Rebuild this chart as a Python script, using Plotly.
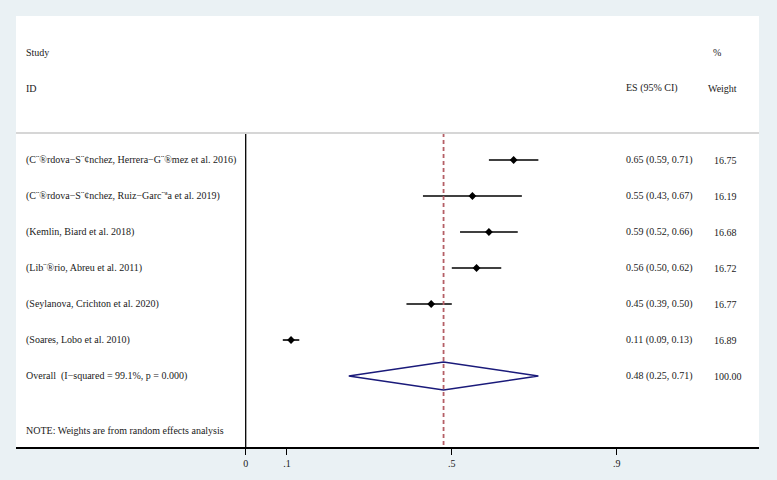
import plotly.graph_objects as go

studies = [
    "(C¨®rdova−S¨¢nchez, Herrera−G¨®mez et al. 2016)",
    "(C¨®rdova−S¨¢nchez, Ruiz−Garc¨ªa et al. 2019)",
    "(Kemlin, Biard et al. 2018)",
    "(Lib¨®rio, Abreu et al. 2011)",
    "(Seylanova, Crichton et al. 2020)",
    "(Soares, Lobo et al. 2010)",
]
es = [0.65, 0.55, 0.59, 0.56, 0.45, 0.11]
lo = [0.59, 0.43, 0.52, 0.50, 0.39, 0.09]
hi = [0.71, 0.67, 0.66, 0.62, 0.50, 0.13]
weights = ["16.75", "16.19", "16.68", "16.72", "16.77", "16.89"]

overall_label = "Overall  (I−squared = 99.1%, p = 0.000)"
overall_es, overall_lo, overall_hi = 0.48, 0.25, 0.71
overall_weight = "100.00"
note = "NOTE: Weights are from random effects analysis"

tick_vals = [0, 0.1, 0.5, 0.9]
tick_text = ["0", ".1", ".5", ".9"]

# layout geometry helpers (pixel -> data)
X0_PX, X_SCALE = 245.7, 412.2
L_PX, R_PX = 16, 759
def px2x(p):
    return (p - X0_PX) / X_SCALE

rows = list(range(len(studies)))
overall_row = len(studies)
FONT = "Liberation Serif"
BG = "#eaf1f4"

fig = go.Figure()

# CI lines
for r, a, b in zip(rows, lo, hi):
    fig.add_trace(go.Scatter(x=[a, b], y=[r, r], mode="lines",
                             line=dict(color="black", width=1.6),
                             showlegend=False, hoverinfo="skip"))
# point estimates
fig.add_trace(go.Scatter(x=es, y=rows, mode="markers",
                         marker=dict(symbol="diamond", size=6, color="black"),
                         showlegend=False))

# overall diamond
h = 0.39
fig.add_trace(go.Scatter(
    x=[overall_lo, overall_es, overall_hi, overall_es, overall_lo],
    y=[overall_row, overall_row - h, overall_row, overall_row + h, overall_row],
    mode="lines", line=dict(color="#1a1a7a", width=1.5),
    showlegend=False, hoverinfo="skip"))

y_top_line = -0.75
y_bottom = 7.972
# zero line
fig.add_shape(type="line", x0=0, x1=0, y0=y_top_line, y1=y_bottom,
              line=dict(color="black", width=1.3))
# overall dashed line
fig.add_shape(type="line", x0=overall_es, x1=overall_es, y0=y_top_line, y1=y_bottom,
              line=dict(color="#b55f66", width=1.8, dash="4px,3px"))
# header separator
fig.add_shape(type="line", xref="paper", x0=0, x1=1, y0=y_top_line, y1=y_top_line,
              line=dict(color="#d6d6d6", width=1.8))

def txt(x, y, s):
    fig.add_annotation(x=x, y=y, text=s, showarrow=False, xanchor="left",
                       yanchor="middle", font=dict(family=FONT, size=10, color="#1a1a1a"))

lab_x = px2x(24)
es_x = px2x(624)
w_x = px2x(712)
txt(lab_x, -3, "Study")
txt(lab_x, -2, "ID")
txt(es_x, -2, "ES (95% CI)")
txt(px2x(711), -3, "%")
txt(px2x(706), -2, "Weight")
for r, s, e, a, b, w in zip(rows, studies, es, lo, hi, weights):
    txt(lab_x, r, s)
    txt(es_x, r, f"{e:.2f} ({a:.2f}, {b:.2f})")
    txt(w_x, r, w)
txt(lab_x, overall_row, overall_label)
txt(es_x, overall_row, f"{overall_es:.2f} ({overall_lo:.2f}, {overall_hi:.2f})")
txt(w_x, overall_row, overall_weight)
txt(lab_x, 7.5, note)

fig.update_layout(
    width=777, height=480,
    margin=dict(l=L_PX, r=777 - R_PX, t=16, b=33),
    paper_bgcolor=BG, plot_bgcolor="white",
    font=dict(family=FONT, size=10, color="#1a1a1a"),
    showlegend=False,
)
fig.update_xaxes(range=[px2x(L_PX), px2x(R_PX)], showgrid=False, zeroline=False,
                 showline=True, linecolor="black", linewidth=1.5,
                 ticks="outside", ticklen=6, tickcolor="black", tickwidth=1,
                 tickvals=tick_vals, ticktext=tick_text,
                 tickfont=dict(family=FONT, size=10, color="#1a1a1a"))
fig.update_yaxes(range=[y_bottom, -4], showgrid=False, zeroline=False,
                 showticklabels=False, showline=False)

fig.write_html(
    "out.html",
    config={"displayModeBar": False},
    post_script="document.body.style.margin='0';document.body.style.overflow='hidden';"
                "document.body.style.background='" + BG + "';",
)
